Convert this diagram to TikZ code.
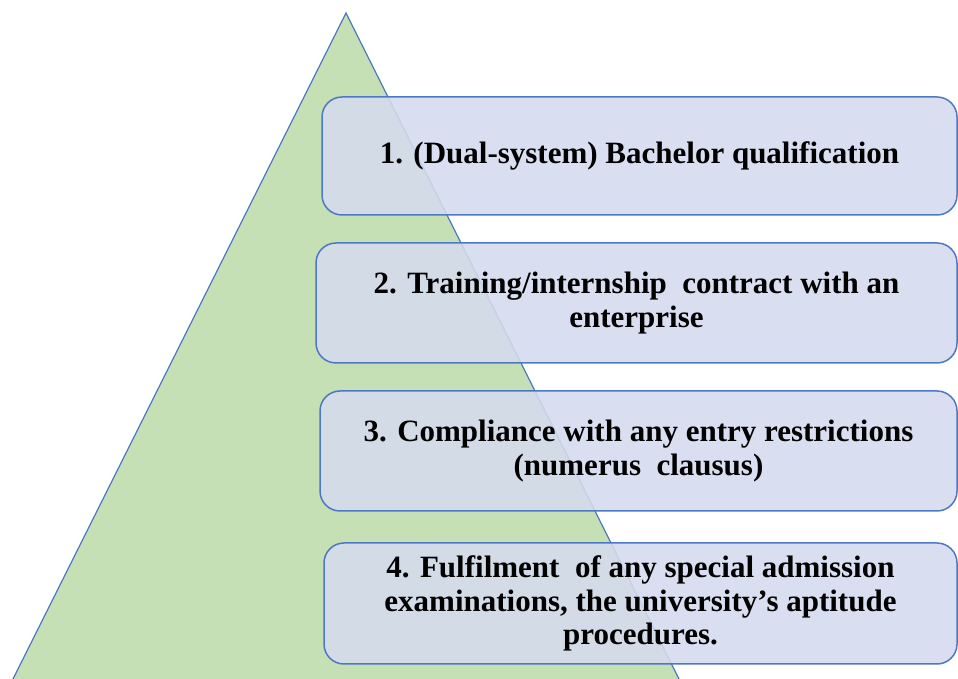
\documentclass[tikz,border=0pt]{standalone}
\usepackage{fontspec}
\setmainfont{Liberation Serif}
\definecolor{pyrgreen}{RGB}{197,224,180}
\definecolor{pyrblue}{RGB}{78,120,196}
\definecolor{stagefill}{RGB}{212,219,238}
\tikzset{
	stage/.style={draw=pyrblue, line width=1.5pt, fill=stagefill, fill opacity=0.88, text opacity=1,
		rounded corners=20pt, align=center, inner sep=0pt,
		font=\bfseries\fontsize{31}{33.5}\selectfont}
}
\begin{document}
\begin{tikzpicture}[x=1pt, y=1pt]
	\useasboundingbox (0,0) rectangle (958,679);
	%pyramid
	\begin{scope}
		\clip (0,0) rectangle (958,679);
		\draw[pyrblue, line width=1.2pt, fill=pyrgreen] (346,666) -- (680,-2) -- (12,-2) -- cycle;
	\end{scope}
	
	%admission conditions
	\node[stage, minimum width=635, minimum height=118] (cond1) at (639.5,523)
		{1. (Dual-system) Bachelor qualification};
	\node[stage, minimum width=641, minimum height=120] (cond2) at (636.5,376)
		{2. Training/internship\ \ contract with an\\enterprise};
	\node[stage, minimum width=637, minimum height=120] (cond3) at (638.5,228)
		{3. Compliance with any entry restrictions\\(numerus\ \ clausus)};
	\node[stage, minimum width=633, minimum height=121] (cond4) at (640.5,75.5)
		{4. Fulfilment\ \ of any special admission\\examinations, the university's aptitude\\procedures.};
	
\end{tikzpicture}
\end{document}
